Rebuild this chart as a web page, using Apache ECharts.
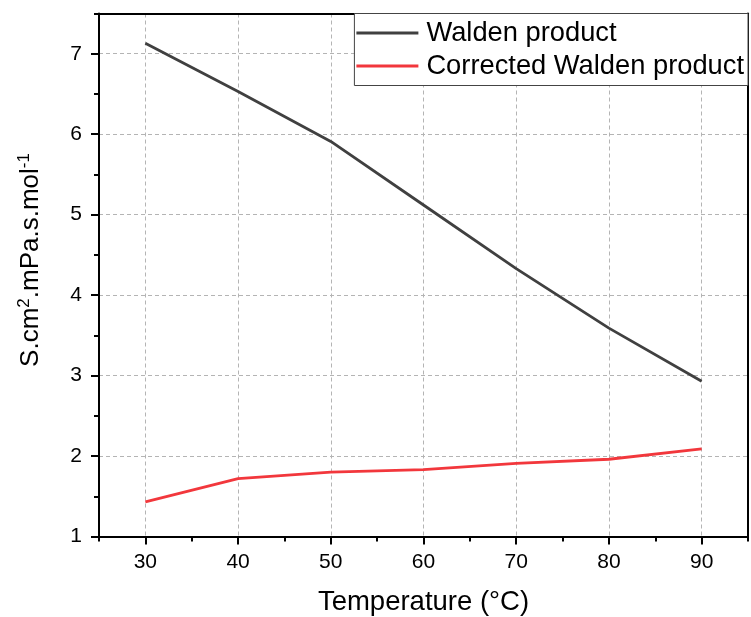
<!DOCTYPE html>
<html>
<head>
<meta charset="utf-8">
<script src="https://cdn.jsdelivr.net/npm/echarts@6/dist/echarts.min.js"></script>
<style>
    html, body {margin: 0; padding: 0; background: #fff;}
    #main {width: 751px; height: 617px;}
</style>
</head>
<body>
<div id="main"></div>
<script>
// temperatures (°C)
const temps = [30, 40, 50, 60, 70, 80, 90];
const walden = [7.13, 6.53, 5.91, 5.12, 4.33, 3.59, 2.93];
const corrected = [1.43, 1.72, 1.80, 1.83, 1.91, 1.96, 2.09];

const xMajor = [30, 40, 50, 60, 70, 80, 90];
const xMinor = [25, 35, 45, 55, 65, 75, 85, 95];
const yMajor = [1, 2, 3, 4, 5, 6, 7];
const yMinor = [1.5, 2.5, 3.5, 4.5, 5.5, 6.5, 7.5];

const font = 'Liberation Sans, Arial, sans-serif';
const gridLine = {show: true, lineStyle: {color: '#b4b4b4', type: [4, 3], width: 1}};

const chart = echarts.init(document.getElementById('main'));
chart.setOption({
    animation: false,
    textStyle: {fontFamily: font},
    grid: {left: 99, right: 3, top: 13.5, bottom: 80.5, containLabel: false, outerBoundsMode: 'none'},
    legend: {
        orient: 'vertical',
        right: 3,
        top: 13.5,
        padding: [6, 4, 6, 2],
        itemGap: 6,
        itemWidth: 62,
        itemHeight: 3,
        icon: 'rect',
        borderColor: '#444',
        borderWidth: 1,
        backgroundColor: '#fff',
        textStyle: {fontSize: 27.3, color: '#000', padding: [0, 0, 0, 3], fontFamily: font},
        data: ['Walden product', 'Corrected Walden product']
    },
    xAxis: [{
        type: 'value',
        min: 25,
        max: 95,
        name: 'Temperature (°C)',
        nameLocation: 'middle',
        nameGap: 52,
        nameTextStyle: {fontSize: 27.5, color: '#000', fontFamily: font},
        axisLine: {lineStyle: {color: '#000', width: 2}},
        axisTick: {show: true, length: 8, lineStyle: {color: '#000', width: 2}, customValues: xMajor},
        axisLabel: {fontSize: 21, color: '#000', margin: 15, customValues: xMajor, fontFamily: font},
        splitLine: gridLine
    }, {
        type: 'value',
        min: 25,
        max: 95,
        position: 'bottom',
        axisLine: {show: false},
        axisTick: {show: true, length: 5, lineStyle: {color: '#000', width: 2}, customValues: xMinor},
        axisLabel: {show: false},
        splitLine: {show: false}
    }, {
        type: 'value',
        min: 25,
        max: 95,
        position: 'top',
        axisLine: {lineStyle: {color: '#000', width: 2}},
        axisTick: {show: false},
        axisLabel: {show: false},
        splitLine: {show: false}
    }],
    yAxis: [{
        type: 'value',
        min: 1,
        max: 7.5,
        name: '{m|S.cm}{s|2}{m|.mPa.s.mol}{s|-1}',
        nameLocation: 'middle',
        nameGap: 54,
        nameTextStyle: {
            padding: [0, 0, 0, 30],
            rich: {
                m: {fontSize: 26, color: '#000', fontFamily: font},
                s: {fontSize: 17, color: '#000', fontFamily: font, verticalAlign: 'top', padding: [0, 0, 12, 0]}
            }
        },
        axisLine: {lineStyle: {color: '#000', width: 2}},
        axisTick: {show: true, length: 8, lineStyle: {color: '#000', width: 2}, customValues: yMajor},
        axisLabel: {fontSize: 21, color: '#000', margin: 17, customValues: yMajor, fontFamily: font},
        splitLine: gridLine
    }, {
        type: 'value',
        min: 1,
        max: 7.5,
        position: 'left',
        axisLine: {show: false},
        axisTick: {show: true, length: 5, lineStyle: {color: '#000', width: 2}, customValues: yMinor},
        axisLabel: {show: false},
        splitLine: {show: false}
    }, {
        type: 'value',
        min: 1,
        max: 7.5,
        position: 'right',
        axisLine: {lineStyle: {color: '#000', width: 2}},
        axisTick: {show: false},
        axisLabel: {show: false},
        splitLine: {show: false}
    }],
    series: [{
        name: 'Walden product',
        type: 'line',
        symbol: 'none',
        color: '#404040',
        lineStyle: {width: 2.8, color: '#404040'},
        data: temps.map((t, i) => [t, walden[i]])
    }, {
        name: 'Corrected Walden product',
        type: 'line',
        symbol: 'none',
        color: '#f2373c',
        lineStyle: {width: 2.8, color: '#f2373c'},
        data: temps.map((t, i) => [t, corrected[i]])
    }]
});
</script>
</body>
</html>
